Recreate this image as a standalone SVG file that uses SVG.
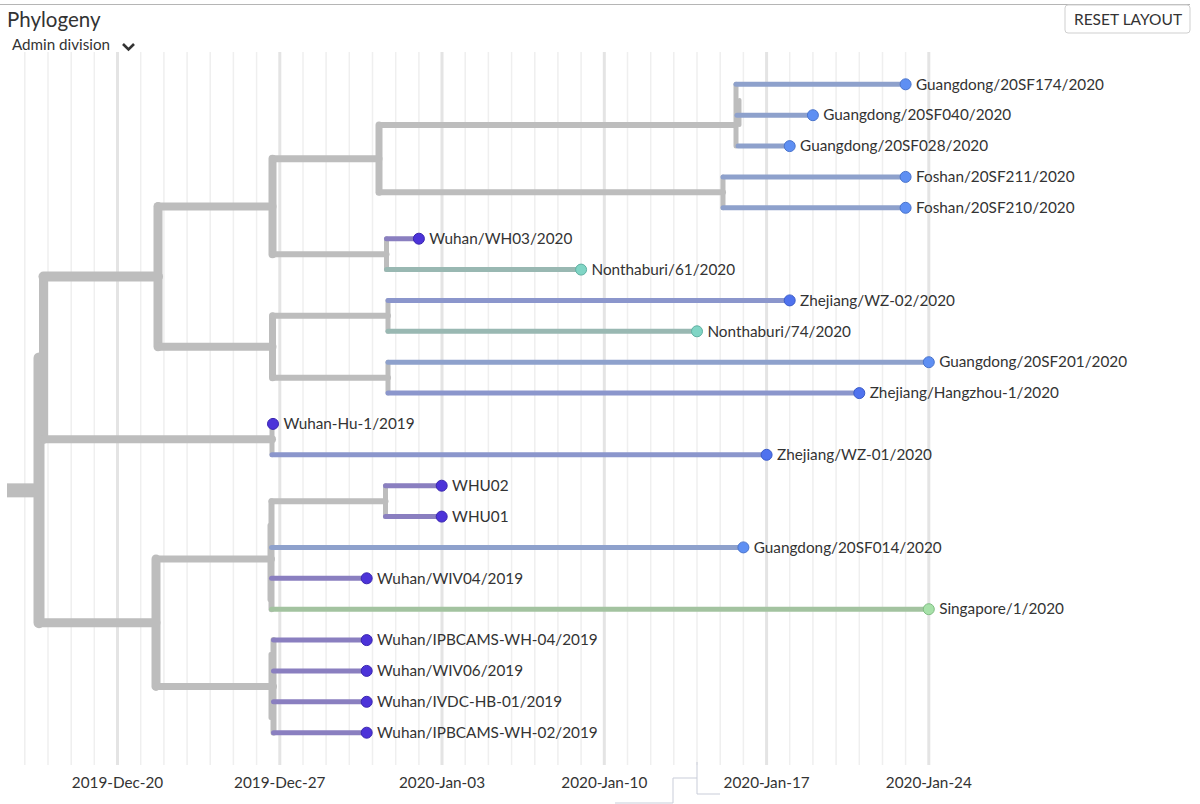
<svg xmlns="http://www.w3.org/2000/svg" width="1200" height="804" viewBox="0 0 1200 804">
<style>
text{font-family:Lato,"Open Sans","Liberation Sans",sans-serif;fill:#333}
.lbl{font-size:15.3px}
.ax{font-size:15.3px;text-anchor:middle}
.gd{stroke:#efefef;stroke-width:1.5}
.gw{stroke:#e4e4e4;stroke-width:3}
.br{fill:none;stroke-linecap:round}
.g{stroke:#bdbdbd}
.wu{stroke:#8a7fc0}
.gu{stroke:#8ea1cc}
.zj{stroke:#8b96cc}
.nt{stroke:#99b8b2}
.sg{stroke:#a3c3a0}
.dwu{fill:#4c33d9;stroke:#3a26b0}
.dgu{fill:#5e8ff3;stroke:#4a74cc}
.dzj{fill:#4f72ee;stroke:#3b5cc8}
.dnt{fill:#80d5c5;stroke:#5fb0a2}
.dsg{fill:#a7e1a9;stroke:#80bd83}
circle{stroke-width:1}
</style>
<rect width="1200" height="804" fill="#fff"/>
<g id="header">
<line x1="0" y1="4.5" x2="1190" y2="4.5" stroke="#b5b5b5" stroke-width="1"/>
<text x="7" y="27" font-size="20.5">Phylogeny</text>
<text x="12" y="50" font-size="15.2">Admin division</text>
<polyline points="123,44 128.5,49.5 134,44" fill="none" stroke="#333" stroke-width="2.6"/>
</g>
<g id="reset-button">
<rect x="1065" y="5" width="125" height="28" rx="3" fill="#fff" stroke="#cfcfcf"/>
<text x="1128" y="25" font-size="15.5" text-anchor="middle">RESET LAYOUT</text>
</g>
<g id="grid">
<line class="gd" x1="24.8" y1="52" x2="24.8" y2="765"/>
<line class="gd" x1="48" y1="52" x2="48" y2="765"/>
<line class="gd" x1="71.2" y1="52" x2="71.2" y2="765"/>
<line class="gd" x1="94.3" y1="52" x2="94.3" y2="765"/>
<line class="gw" x1="117.5" y1="52" x2="117.5" y2="765"/>
<line class="gd" x1="140.7" y1="52" x2="140.7" y2="765"/>
<line class="gd" x1="163.9" y1="52" x2="163.9" y2="765"/>
<line class="gd" x1="187.1" y1="52" x2="187.1" y2="765"/>
<line class="gd" x1="210.2" y1="52" x2="210.2" y2="765"/>
<line class="gd" x1="233.4" y1="52" x2="233.4" y2="765"/>
<line class="gd" x1="256.6" y1="52" x2="256.6" y2="765"/>
<line class="gw" x1="279.8" y1="52" x2="279.8" y2="765"/>
<line class="gd" x1="303" y1="52" x2="303" y2="765"/>
<line class="gd" x1="326.1" y1="52" x2="326.1" y2="765"/>
<line class="gd" x1="349.3" y1="52" x2="349.3" y2="765"/>
<line class="gd" x1="372.5" y1="52" x2="372.5" y2="765"/>
<line class="gd" x1="395.7" y1="52" x2="395.7" y2="765"/>
<line class="gd" x1="418.9" y1="52" x2="418.9" y2="765"/>
<line class="gw" x1="442" y1="52" x2="442" y2="765"/>
<line class="gd" x1="465.2" y1="52" x2="465.2" y2="765"/>
<line class="gd" x1="488.4" y1="52" x2="488.4" y2="765"/>
<line class="gd" x1="511.6" y1="52" x2="511.6" y2="765"/>
<line class="gd" x1="534.8" y1="52" x2="534.8" y2="765"/>
<line class="gd" x1="557.9" y1="52" x2="557.9" y2="765"/>
<line class="gd" x1="581.1" y1="52" x2="581.1" y2="765"/>
<line class="gw" x1="604.3" y1="52" x2="604.3" y2="765"/>
<line class="gd" x1="627.5" y1="52" x2="627.5" y2="765"/>
<line class="gd" x1="650.7" y1="52" x2="650.7" y2="765"/>
<line class="gd" x1="673.8" y1="52" x2="673.8" y2="765"/>
<line class="gd" x1="697" y1="52" x2="697" y2="765"/>
<line class="gd" x1="720.2" y1="52" x2="720.2" y2="765"/>
<line class="gd" x1="743.4" y1="52" x2="743.4" y2="765"/>
<line class="gw" x1="766.6" y1="52" x2="766.6" y2="765"/>
<line class="gd" x1="789.7" y1="52" x2="789.7" y2="765"/>
<line class="gd" x1="812.9" y1="52" x2="812.9" y2="765"/>
<line class="gd" x1="836.1" y1="52" x2="836.1" y2="765"/>
<line class="gd" x1="859.3" y1="52" x2="859.3" y2="765"/>
<line class="gd" x1="882.5" y1="52" x2="882.5" y2="765"/>
<line class="gd" x1="905.6" y1="52" x2="905.6" y2="765"/>
<line class="gw" x1="928.8" y1="52" x2="928.8" y2="765"/>
</g>
<g id="axis">
<text class="ax" x="117.5" y="788">2019-Dec-20</text>
<text class="ax" x="279.8" y="788">2019-Dec-27</text>
<text class="ax" x="442" y="788">2020-Jan-03</text>
<text class="ax" x="604.3" y="788">2020-Jan-10</text>
<text class="ax" x="766.6" y="788">2020-Jan-17</text>
<text class="ax" x="928.8" y="788">2020-Jan-24</text>
<path d="M697,762 V794 H720 M615,803 H673 V778 H697" fill="none" stroke="#c9cdd9" stroke-width="1"/>
</g>
<g id="connectors" class="br">
<path class="g" d="M7,490.35 H39" stroke-width="14" stroke-linecap="butt"/>
<path class="g" d="M39,358 V622.7" stroke-width="11"/>
<path class="g" d="M43.5,276.6 V439.35" stroke-width="9"/>
<path class="g" d="M43.5,276.6 H158" stroke-width="10"/>
<path class="g" d="M158,206.4 V346.75" stroke-width="9"/>
<path class="g" d="M43.5,439.35 H272" stroke-width="8"/>
<path class="g" d="M272,423.9 V454.8" stroke-width="5"/>
<path class="g" d="M39,622.7 H156" stroke-width="9"/>
<path class="g" d="M156,559 V686.4" stroke-width="9"/>
<path class="g" d="M158,206.4 H272.5" stroke-width="8"/>
<path class="g" d="M272.5,158.7 V254.15" stroke-width="8"/>
<path class="g" d="M158,346.75 H272.5" stroke-width="8"/>
<path class="g" d="M272.5,315.85 V377.65" stroke-width="7"/>
<path class="g" d="M272.5,158.7 H379" stroke-width="7"/>
<path class="g" d="M379,125 V192.35" stroke-width="7"/>
<path class="g" d="M272.5,254.15 H386.5" stroke-width="6"/>
<path class="g" d="M386.5,238.7 V269.6" stroke-width="5"/>
<path class="g" d="M379,125 H736" stroke-width="6"/>
<path class="g" d="M736,84.3 V146.1" stroke-width="5"/>
<path class="g" d="M739.5,100 V125" stroke-width="4"/>
<path class="g" d="M379,192.35 H723" stroke-width="6"/>
<path class="g" d="M723,176.9 V207.8" stroke-width="5"/>
<path class="g" d="M272.5,315.85 H388" stroke-width="6"/>
<path class="g" d="M388,300.4 V331.3" stroke-width="5"/>
<path class="g" d="M272.5,377.65 H388" stroke-width="6"/>
<path class="g" d="M388,362.2 V393.1" stroke-width="5"/>
<path class="g" d="M156,559 H271.5" stroke-width="7"/>
<path class="g" d="M271.5,501.15 V609.2" stroke-width="6"/>
<path class="g" d="M269.5,525 V600" stroke-width="4"/>
<path class="g" d="M271.5,501.15 H385.5" stroke-width="6"/>
<path class="g" d="M385.5,485.7 V516.6" stroke-width="5"/>
<path class="g" d="M156,686.4 H273.5" stroke-width="7"/>
<path class="g" d="M273.5,640.1 V732.7" stroke-width="6"/>
<path class="g" d="M270.5,654 V718" stroke-width="4"/>
<g stroke-width="5">
<path class="gu" d="M736,84.3 H905.6"/>
<path class="gu" d="M737,115.2 H812.9"/>
<path class="gu" d="M738,146.1 H789.7"/>
<path class="gu" d="M723,176.9 H905.6"/>
<path class="gu" d="M723,207.8 H905.6"/>
<path class="wu" d="M386.5,238.7 H418.9"/>
<path class="nt" d="M386.5,269.6 H581.1"/>
<path class="zj" d="M388,300.4 H789.7"/>
<path class="nt" d="M388,331.3 H697"/>
<path class="gu" d="M388,362.2 H928.8"/>
<path class="zj" d="M388,393.1 H859.3"/>
<path class="zj" d="M272,454.8 H766.6"/>
<path class="wu" d="M385.5,485.7 H441.7"/>
<path class="wu" d="M385.5,516.6 H441.7"/>
<path class="gu" d="M271.5,547.4 H743.4"/>
<path class="wu" d="M271.5,578.3 H366.7"/>
<path class="sg" d="M271.5,609.2 H928.8"/>
<path class="wu" d="M273.5,640.1 H366.7"/>
<path class="wu" d="M273.5,670.9 H366.7"/>
<path class="wu" d="M273.5,701.8 H366.7"/>
<path class="wu" d="M273.5,732.7 H366.7"/>
</g>
</g>
<g id="tip-guangdong-20SF174"><circle class="dgu" cx="905.6" cy="84.3" r="5.5"/><text class="lbl" x="916" y="89.5">Guangdong/20SF174/2020</text></g>
<g id="tip-guangdong-20SF040"><circle class="dgu" cx="812.9" cy="115.2" r="5.5"/><text class="lbl" x="823.3" y="120.4">Guangdong/20SF040/2020</text></g>
<g id="tip-guangdong-20SF028"><circle class="dgu" cx="789.7" cy="146.1" r="5.5"/><text class="lbl" x="800.1" y="151.3">Guangdong/20SF028/2020</text></g>
<g id="tip-foshan-20SF211"><circle class="dgu" cx="905.6" cy="176.9" r="5.5"/><text class="lbl" x="916" y="182.1">Foshan/20SF211/2020</text></g>
<g id="tip-foshan-20SF210"><circle class="dgu" cx="905.6" cy="207.8" r="5.5"/><text class="lbl" x="916" y="213">Foshan/20SF210/2020</text></g>
<g id="tip-wuhan-wh03"><circle class="dwu" cx="418.9" cy="238.7" r="5.5"/><text class="lbl" x="429.3" y="243.9">Wuhan/WH03/2020</text></g>
<g id="tip-nonthaburi-61"><circle class="dnt" cx="581.1" cy="269.6" r="5.5"/><text class="lbl" x="591.5" y="274.8">Nonthaburi/61/2020</text></g>
<g id="tip-zhejiang-wz02"><circle class="dzj" cx="789.7" cy="300.4" r="5.5"/><text class="lbl" x="800.1" y="305.6">Zhejiang/WZ-02/2020</text></g>
<g id="tip-nonthaburi-74"><circle class="dnt" cx="697" cy="331.3" r="5.5"/><text class="lbl" x="707.4" y="336.5">Nonthaburi/74/2020</text></g>
<g id="tip-guangdong-20SF201"><circle class="dgu" cx="928.8" cy="362.2" r="5.5"/><text class="lbl" x="939.2" y="367.4">Guangdong/20SF201/2020</text></g>
<g id="tip-zhejiang-hangzhou1"><circle class="dzj" cx="859.3" cy="393.1" r="5.5"/><text class="lbl" x="869.7" y="398.3">Zhejiang/Hangzhou-1/2020</text></g>
<g id="tip-wuhan-hu1"><circle class="dwu" cx="273" cy="423.9" r="5.5"/><text class="lbl" x="283.4" y="429.1">Wuhan-Hu-1/2019</text></g>
<g id="tip-zhejiang-wz01"><circle class="dzj" cx="766.6" cy="454.8" r="5.5"/><text class="lbl" x="777" y="460">Zhejiang/WZ-01/2020</text></g>
<g id="tip-whu02"><circle class="dwu" cx="441.7" cy="485.7" r="5.5"/><text class="lbl" x="452.1" y="490.9">WHU02</text></g>
<g id="tip-whu01"><circle class="dwu" cx="441.7" cy="516.6" r="5.5"/><text class="lbl" x="452.1" y="521.8">WHU01</text></g>
<g id="tip-guangdong-20SF014"><circle class="dgu" cx="743.4" cy="547.4" r="5.5"/><text class="lbl" x="753.8" y="552.6">Guangdong/20SF014/2020</text></g>
<g id="tip-wuhan-wiv04"><circle class="dwu" cx="366.7" cy="578.3" r="5.5"/><text class="lbl" x="377.1" y="583.5">Wuhan/WIV04/2019</text></g>
<g id="tip-singapore-1"><circle class="dsg" cx="928.8" cy="609.2" r="5.5"/><text class="lbl" x="939.2" y="614.4">Singapore/1/2020</text></g>
<g id="tip-wuhan-ipbcams-wh04"><circle class="dwu" cx="366.7" cy="640.1" r="5.5"/><text class="lbl" x="377.1" y="645.3">Wuhan/IPBCAMS-WH-04/2019</text></g>
<g id="tip-wuhan-wiv06"><circle class="dwu" cx="366.7" cy="670.9" r="5.5"/><text class="lbl" x="377.1" y="676.1">Wuhan/WIV06/2019</text></g>
<g id="tip-wuhan-ivdc-hb01"><circle class="dwu" cx="366.7" cy="701.8" r="5.5"/><text class="lbl" x="377.1" y="707">Wuhan/IVDC-HB-01/2019</text></g>
<g id="tip-wuhan-ipbcams-wh02"><circle class="dwu" cx="366.7" cy="732.7" r="5.5"/><text class="lbl" x="377.1" y="737.9">Wuhan/IPBCAMS-WH-02/2019</text></g>
</svg>
